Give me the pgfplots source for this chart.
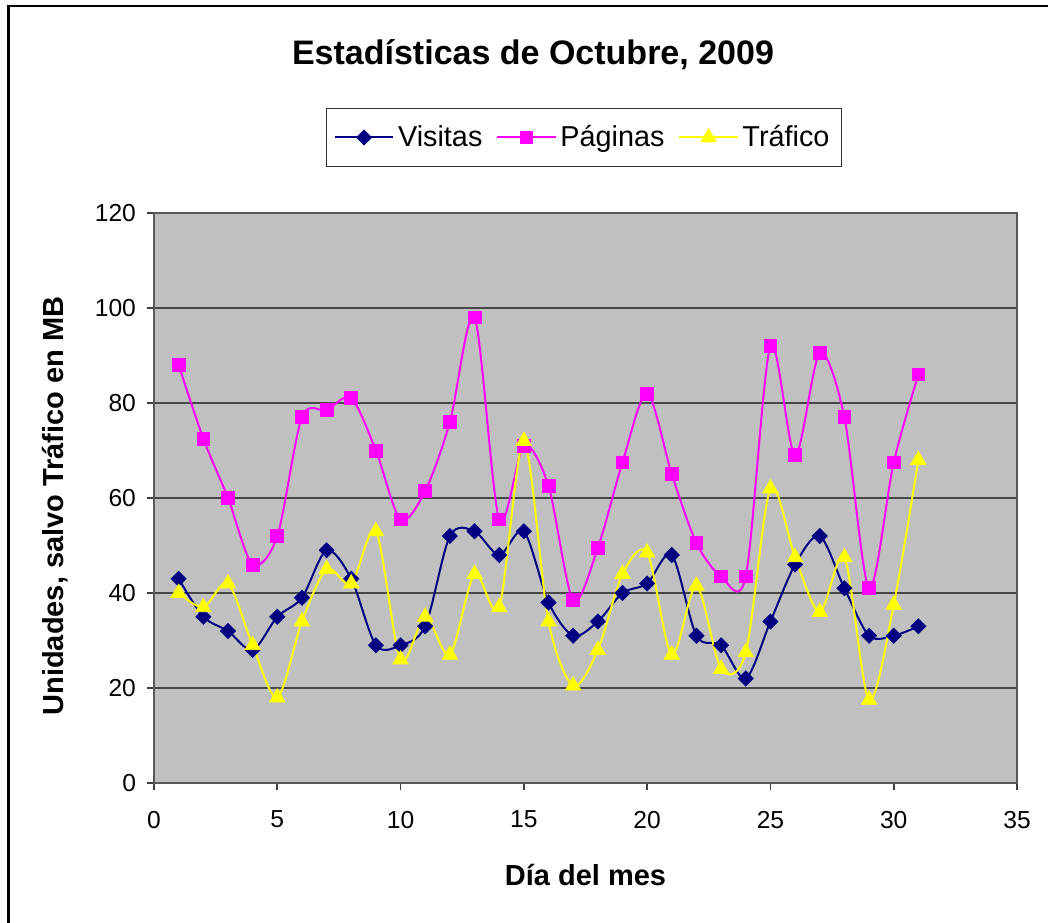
\documentclass[border=0pt]{standalone}
\usepackage{fontspec}
\setmainfont{Liberation Sans}
\usepackage{pgfplots}
\pgfplotsset{compat=1.18}
\definecolor{vis}{RGB}{0,0,128}
\definecolor{pag}{RGB}{255,0,255}
\definecolor{tra}{RGB}{255,255,0}
\definecolor{bg}{RGB}{192,192,192}
\begin{document}
\begin{tikzpicture}
\begin{scope}[x=0.5pt,y=0.5pt]
\useasboundingbox (0,0) rectangle (1048,922);
\draw[line width=1.4pt] (8.5,-20) -- (8.5,916) -- (1070,916);
\node[font=\bfseries\fontsize{17}{20}\selectfont] at (533,867) {Estadísticas de Octubre, 2009};
\end{scope}
\begin{axis}[
  at={(77pt,69.5pt)}, anchor=south west,
  scale only axis, width=431.5pt, height=285pt,
  xmin=0, xmax=35, ymin=0, ymax=120,
  xtick={0,5,...,35}, ytick={0,20,...,120},
  xtick pos=bottom, ytick pos=left,
  tick align=outside, major tick length=3.5pt,
  tick style={black!75, line width=0.8pt},
  axis line style={black!65, line width=0.9pt},
  ymajorgrids, major grid style={black!72, line width=0.8pt},
  axis background/.style={fill=bg},
  /pgf/number format/assume math mode=true,
  tick label style={font=\fontsize{12.3}{14}\selectfont},
  xticklabel style={yshift=-7pt},
  yticklabel style={xshift=-2pt},
  xlabel={Día del mes}, ylabel={Unidades, salvo Tráfico en MB},
  label style={font=\bfseries\fontsize{14.5}{17}\selectfont},
  xlabel style={at={(axis description cs:0.5,-0.161)}, anchor=center},
  ylabel style={at={(axis description cs:-0.1147,0.486)}, anchor=center, rotate=0},
  legend columns=3,
  legend style={at={(axis description cs:0.498,1.1325)}, anchor=center,
    draw=black!80, line width=0.6pt, fill=white, font=\fontsize{14.4}{17}\selectfont,
    inner xsep=4pt, inner ysep=6.5pt,
    /tikz/every even column/.append style={column sep=5pt}},
  legend image code/.code={\draw[mark repeat=2,mark phase=2,#1] plot coordinates {(0pt,0pt)(14.5pt,0pt)(29pt,0pt)};},
  every axis plot/.append style={line width=1pt, smooth},
]
\addplot[vis, mark=square*, mark size=2.65pt, mark options={rotate=45, fill=vis, line width=0.4pt}] coordinates {
(1,43)(2,35)(3,32)(4,28)(5,35)(6,39)(7,49)(8,43)(9,29)(10,29)(11,33)(12,52)(13,53)(14,48)(15,53)(16,38)(17,31)(18,34)(19,40)(20,42)(21,48)(22,31)(23,29)(24,22)(25,34)(26,46)(27,52)(28,41)(29,31)(30,31)(31,33)};
\addlegendentry{Visitas}
\addplot[pag, mark=square*, mark size=3.2pt, mark options={fill=pag, line width=0.4pt}] coordinates {
(1,88)(2,72.5)(3,60)(4,46)(5,52)(6,77)(7,78.5)(8,81)(9,70)(10,55.5)(11,61.5)(12,76)(13,98)(14,55.5)(15,71)(16,62.5)(17,38.5)(18,49.5)(19,67.5)(20,82)(21,65)(22,50.5)(23,43.5)(24,43.5)(25,92)(26,69)(27,90.5)(28,77)(29,41)(30,67.5)(31,86)};
\addlegendentry{Páginas}
\addplot[tra, mark=triangle*, mark size=4.4pt, mark options={fill=tra, line width=0.4pt}] coordinates {
(1,40)(2,37)(3,42)(4,29)(5,18)(6,34)(7,45)(8,42)(9,53)(10,26)(11,35)(12,27)(13,44)(14,37)(15,72)(16,34)(17,20.5)(18,28)(19,44)(20,48.5)(21,27)(22,41.5)(23,24)(24,27.5)(25,62)(26,47.5)(27,36)(28,47.5)(29,17.5)(30,37.5)(31,68)};
\addlegendentry{Tráfico}
\end{axis}
\end{tikzpicture}
\end{document}
